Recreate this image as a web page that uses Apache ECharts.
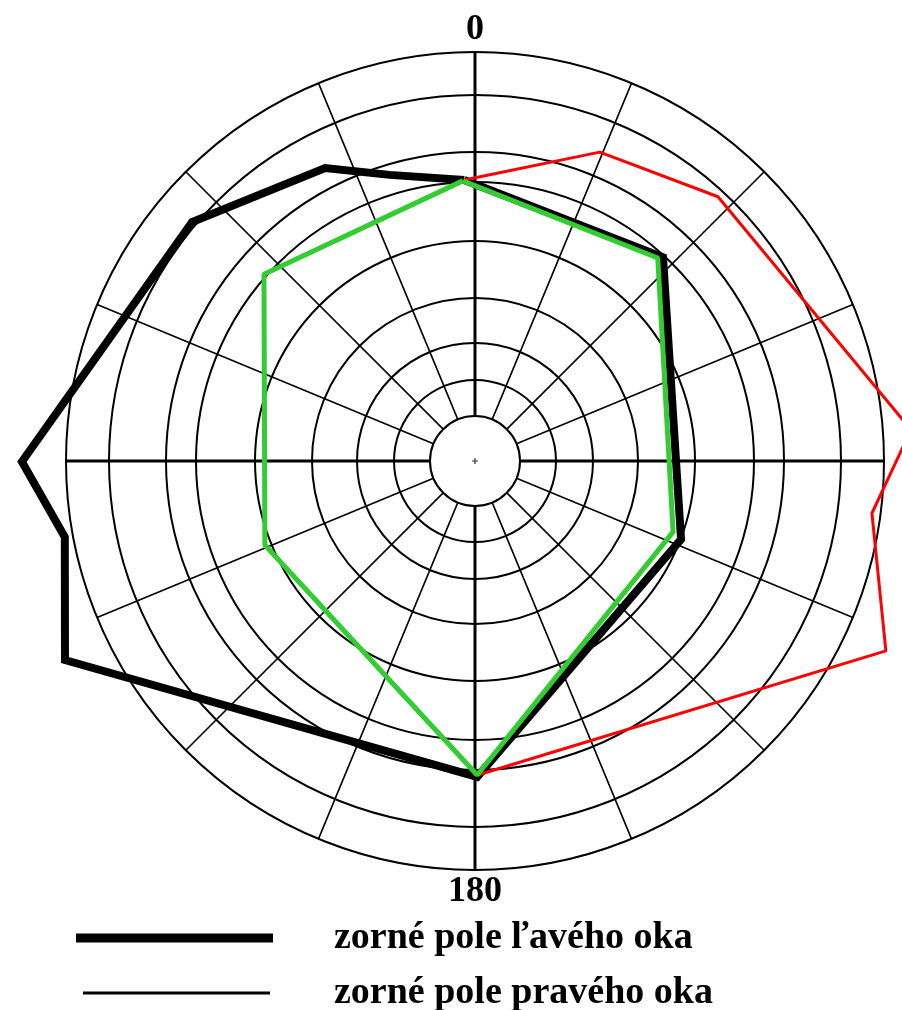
<!DOCTYPE html>
<html>
<head>
<meta charset="utf-8">
<script src="https://cdn.jsdelivr.net/npm/echarts@6/dist/echarts.min.js"></script>
<style>
html,body{margin:0;padding:0;background:#fff;}
#chart{width:902px;height:1010px;}
</style>
</head>
<body>
<div id="chart"></div>
<script>
// ---- data (radius in degrees of visual field, angle in degrees clockwise from top) ----
const seriesNames = ['zorné pole ľavého oka', 'zorné pole pravého oka'];
const angleLabels = ['0', '180'];
const ringDegrees = [10, 20, 30, 40, 50, 60, 70, 80, 90];

const leftEyeRadius = [61.9, 61.0, 48.5, 69.5, 100.3, 91.8, 99.7, 81.5, 72.4, 65.7, 61.9];
const leftEyeAngle  = [357.8, 42.7, 110.8, 179.6, 244.1, 259.5, 269.9, 310.2, 332.9, 343.4, 357.8];

const rightEyeRadius = [61.9, 73.3, 79.0, 96.2, 88.1, 99.6, 69.1];
const rightEyeAngle  = [357.8, 22.0, 42.6, 85.9, 97.5, 114.8, 179.5];

const greenRadius = [61.7, 60.1, 46.3, 69.1, 49.8, 62.0, 61.7];
const greenAngle  = [357.5, 42.0, 109.7, 179.6, 248.2, 311.5, 357.5];

const centerPoint = [[0, 0]];

// ---- layout ----
const C = [475, 461];
const R = 409;                 // outer ring (90 deg) in px
const DATA_MAX = 110;          // data polar extends beyond outer ring so nothing is clipped
const ringPx = [45, 81, 118, 163, 220, 279, 309, 366, 409];

function pairs(r, a) { return r.map((v, i) => [v, a[i]]); }

const chart = echarts.init(document.getElementById('chart'), null, {renderer: 'canvas'});

const outerDeg = ringDegrees[ringDegrees.length - 1];
const polar = [
  {center: C, radius: R * DATA_MAX / outerDeg},
  {center: C, radius: [ringPx[0], R]},
  {center: C, radius: [ringPx[0], R]}
].concat(ringPx.map(r => ({center: C, radius: r})));

const hidden = {show: false};
const angleAxis = [];
const radiusAxis = [];
polar.forEach((p, i) => {
  const aa = {
    polarIndex: i, type: 'value', min: 0, max: 360, startAngle: 90, clockwise: true,
    axisLine: hidden, axisTick: hidden, axisLabel: hidden, splitLine: hidden
  };
  if (i === 1) {
    aa.interval = 22.5;
    aa.splitLine = {show: true, lineStyle: {color: '#000', width: 1.6}};
  } else if (i === 2) {
    aa.interval = 90;
    aa.splitLine = {show: true, lineStyle: {color: '#000', width: 3}};
    aa.axisLabel = {
      show: true, margin: 4, color: '#000',
      fontFamily: 'Liberation Serif', fontWeight: 'bold', fontSize: 36,
      formatter: v => (v === 0 ? angleLabels[0] : (v === 180 ? angleLabels[1] : ''))
    };
  } else if (i >= 3) {
    aa.axisLine = {show: true, lineStyle: {color: '#000', width: 2}};
  }
  angleAxis.push(aa);
  radiusAxis.push({
    polarIndex: i, type: 'value', min: 0, max: (i === 0 ? DATA_MAX : 1),
    axisLine: hidden, axisTick: hidden, axisLabel: hidden, splitLine: hidden
  });
});

const option = {
  animation: false,
  backgroundColor: '#fff',
  polar: polar,
  angleAxis: angleAxis,
  radiusAxis: radiusAxis,
  legend: {
    orient: 'vertical',
    left: 76, bottom: -2,
    padding: 0,
    itemGap: 17,
    itemWidth: 253, itemHeight: 12,
    selectedMode: false,
    textStyle: {color: '#000', fontFamily: 'Liberation Serif', fontWeight: 'bold', fontSize: 38},
    data: [
      {name: seriesNames[0], icon: 'path://M0,0M253,12M0,1.5L197,1.5L197,10.5L0,10.5Z', itemStyle: {color: '#000'}},
      {name: seriesNames[1], icon: 'path://M0,0M253,12M7,4.6L194,4.6L194,7.4L7,7.4Z', itemStyle: {color: '#000'}}
    ]
  },
  series: [
    {
      name: seriesNames[0], type: 'line', coordinateSystem: 'polar', polarIndex: 0,
      data: pairs(leftEyeRadius, leftEyeAngle), symbol: 'none', clip: false, z: 3,
      lineStyle: {color: '#000', width: 8, join: 'miter'}, itemStyle: {color: '#000'}
    },
    {
      name: seriesNames[1], type: 'line', coordinateSystem: 'polar', polarIndex: 0,
      data: pairs(rightEyeRadius, rightEyeAngle), symbol: 'none', clip: false, z: 4,
      lineStyle: {color: '#ff0000', width: 3}, itemStyle: {color: '#ff0000'}
    },
    {
      name: 'green', type: 'line', coordinateSystem: 'polar', polarIndex: 0,
      data: pairs(greenRadius, greenAngle), symbol: 'none', clip: false, z: 5,
      lineStyle: {color: '#33cc33', width: 5}, itemStyle: {color: '#33cc33'}
    },
    {
      name: 'center', type: 'scatter', coordinateSystem: 'polar', polarIndex: 0,
      data: centerPoint, symbol: 'path://M2,0H3V2H5V3H3V5H2V3H0V2H2Z', symbolSize: 6,
      itemStyle: {color: '#000'}, silent: true, z: 6
    }
  ]
};
chart.setOption(option);
</script>
</body>
</html>
